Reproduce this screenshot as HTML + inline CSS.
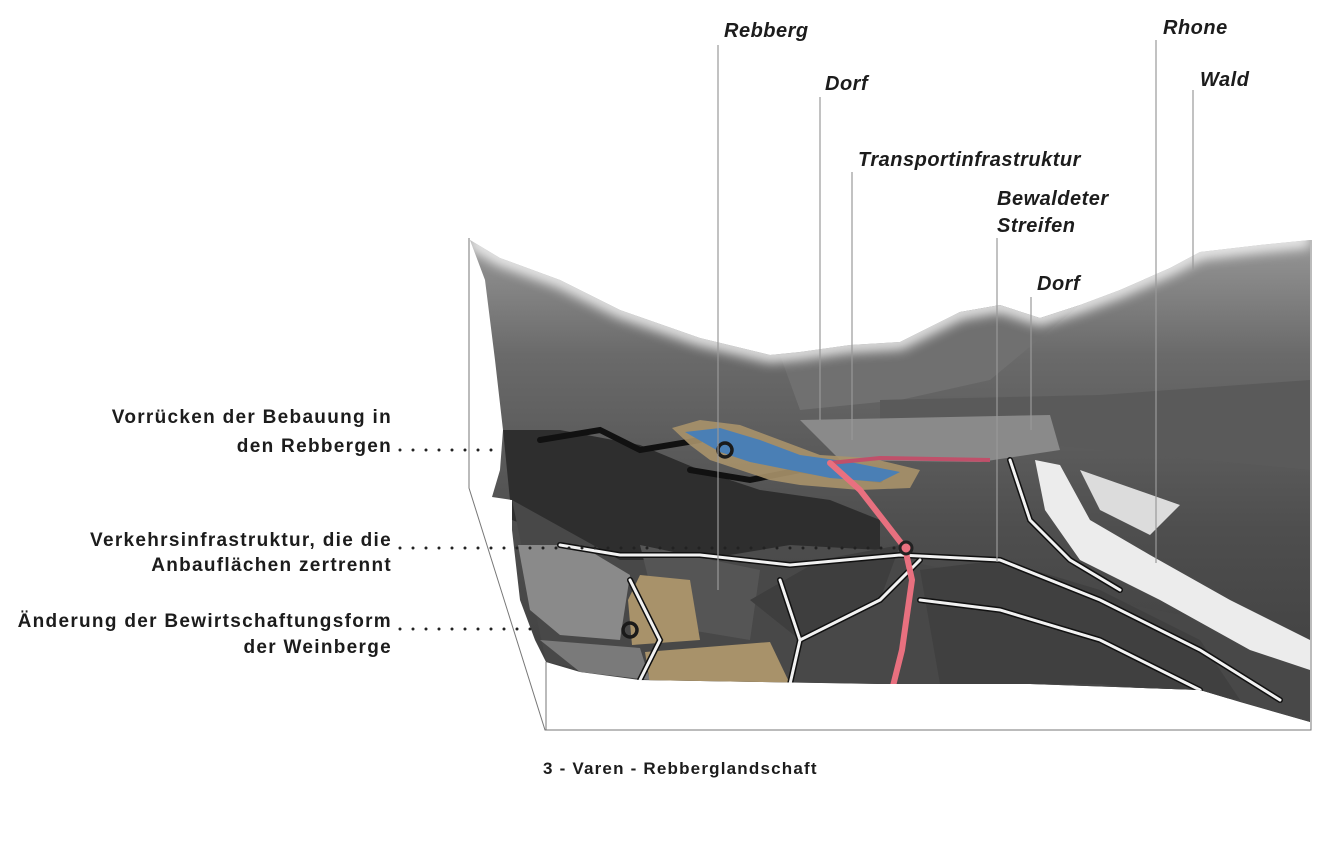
<!DOCTYPE html>
<html><head><meta charset="utf-8"><style>
html,body{margin:0;padding:0;background:#fff;width:1322px;height:861px;overflow:hidden}
svg{display:block}
.l{font-family:"Liberation Sans",sans-serif;font-weight:bold;font-size:19px;fill:#1c1c1c;letter-spacing:1.3px}
.t{font-family:"Liberation Sans",sans-serif;font-weight:bold;font-style:italic;font-size:20px;fill:#1c1c1c;letter-spacing:0.5px}
</style></head><body>
<svg width="1322" height="861" viewBox="0 0 1322 861" xmlns="http://www.w3.org/2000/svg">
<defs>
<linearGradient id="sky" x1="0" y1="0" x2="0" y2="1">
<stop offset="0" stop-color="#9a9a9a"/><stop offset="0.25" stop-color="#6a6a6a"/><stop offset="0.6" stop-color="#4e4e4e"/><stop offset="1" stop-color="#3c3c3c"/></linearGradient>
<filter id="bl" x="-10%" y="-50%" width="120%" height="200%"><feGaussianBlur stdDeviation="6"/></filter>
<clipPath id="land"><path d="M470,240 L500,258 L560,280 L620,310 L700,338 L770,355 L800,352 L850,345 L900,342 L960,312 L1000,305 L1040,318 L1080,305 L1120,290 L1170,268 L1200,252 L1260,245 L1310,240 L1310,722 L1240,702 L1200,690 L1030,684 L880,684 L760,682 L640,680 L580,672 L546,662 L535,640 L520,600 L512,530 L512,500 L492,497 L500,470 L503,430 L495,360 L485,280 Z"/></clipPath>
</defs>
<g clip-path="url(#land)">
<rect x="460" y="230" width="860" height="500" fill="url(#sky)"/>
<path d="M780,355 L900,345 L960,312 L1000,305 L1040,318 L1080,305 L1050,330 L990,380 L900,400 L800,410 Z" fill="#707070"/>
<path d="M880,400 L1100,395 L1310,380 L1310,470 L1000,440 L880,440 Z" fill="#5a5a5a"/>
<path d="M800,420 L1050,415 L1060,450 L980,462 L840,460 Z" fill="#8a8a8a"/>
<path d="M503,430 L560,430 L640,445 L700,470 L760,490 L830,500 L880,520 L880,550 L790,545 L700,560 L620,560 L512,520 Z" fill="#2e2e2e"/>
<path d="M512,500 L620,560 L900,560 L1310,640 L1310,722 L1200,690 L880,684 L640,680 L546,662 Z" fill="#484848"/>
<path d="M640,545 L760,570 L750,640 L660,625 Z" fill="#555"/>
<path d="M750,600 L820,560 L900,545 L880,600 L800,640 Z" fill="#3e3e3e"/>
<path d="M920,570 L1000,560 L1100,590 L1200,640 L1240,700 L1100,684 L940,684 Z" fill="#404040"/>
<path d="M518,545 L580,545 L630,575 L620,640 L560,635 L530,610 Z" fill="#8a8a8a"/>
<path d="M540,640 L640,648 L650,680 L580,672 Z" fill="#7a7a7a"/>
<path d="M640,575 L690,580 L700,640 L632,645 L628,600 Z" fill="#a8926a"/>
<path d="M645,652 L770,642 L790,684 L650,684 Z" fill="#a8926a"/>
<path d="M1035,460 L1060,465 L1090,520 L1150,555 L1230,600 L1310,640 L1310,670 L1250,650 L1160,600 L1080,560 L1045,510 Z" fill="#ececec"/>
<path d="M1080,470 L1180,505 L1150,535 L1100,510 Z" fill="#dcdcdc"/>
<g fill="none" stroke="#111" stroke-width="6" stroke-linecap="round">
<path d="M560,545 L620,555 L700,555 L790,565 L900,555 L1000,560 L1100,600 L1200,650 L1280,700"/>
<path d="M630,580 L660,640 L640,680"/>
<path d="M780,580 L800,640 L790,684"/>
<path d="M800,640 L880,600 L920,560"/>
<path d="M920,600 L1000,610 L1100,640 L1200,690"/>
<path d="M1010,460 L1030,520 L1070,560 L1120,590"/>
<path d="M540,440 L600,430 L640,450 L700,440"/>
<path d="M690,470 L750,480 L800,470 L880,480"/>
</g>
<g fill="none" stroke="#f2f2f2" stroke-width="3" stroke-linecap="round">
<path d="M560,545 L620,555 L700,555 L790,565 L900,555 L1000,560 L1100,600 L1200,650 L1280,700"/>
<path d="M630,580 L660,640 L640,680"/>
<path d="M780,580 L800,640 L790,684"/>
<path d="M800,640 L880,600 L920,560"/>
<path d="M920,600 L1000,610 L1100,640 L1200,690"/>
<path d="M1010,460 L1030,520 L1070,560 L1120,590"/>
</g>
<path d="M672,428 L700,420 L740,425 L780,440 L820,455 L870,458 L920,470 L910,488 L860,490 L800,485 L770,480 L740,470 L710,460 L690,445 Z" fill="#a8926a" opacity="0.9"/>
<path d="M685,432 L720,428 L760,440 L800,455 L850,462 L900,472 L880,482 L830,478 L790,470 L750,462 L720,452 Z" fill="#4a7fb5"/>
<circle cx="725" cy="450" r="7" fill="none" stroke="#1a1a1a" stroke-width="3.5"/>
<path d="M830,463 L880,458 L990,460" fill="none" stroke="#c0506a" stroke-width="4"/>
<path d="M830,463 L860,490 L905,548 L912,580 L902,650 L892,690" fill="none" stroke="#e8707f" stroke-width="6" stroke-linecap="round"/>
<circle cx="906" cy="548" r="6" fill="#e8707f" stroke="#222" stroke-width="3"/>
<circle cx="630" cy="630" r="7" fill="none" stroke="#1a1a1a" stroke-width="3.5"/>
<!-- soft skyline fade -->
<path d="M470,240 L500,258 L560,280 L620,310 L700,338 L770,355 L800,352 L850,345 L900,342 L960,312 L1000,305 L1040,318 L1080,305 L1120,290 L1170,268 L1200,252 L1260,245 L1310,240" fill="none" stroke="#fff" stroke-width="14" filter="url(#bl)" opacity="0.9"/>
</g>
<g fill="none" stroke="#777" stroke-width="1">
<path d="M469,238 L469,488 L545,730 L1311,730 L1311,240"/>
<path d="M546,662 L546,730"/>
</g>
<g stroke="#999" stroke-width="1.2">
<line x1="718" y1="45" x2="718" y2="590"/>
<line x1="820" y1="97" x2="820" y2="420"/>
<line x1="852" y1="172" x2="852" y2="440"/>
<line x1="997" y1="238" x2="997" y2="562"/>
<line x1="1031" y1="297" x2="1031" y2="430"/>
<line x1="1156" y1="40" x2="1156" y2="563"/>
<line x1="1193" y1="90" x2="1193" y2="270"/>
</g>
<g stroke="#222" stroke-width="3" stroke-linecap="round" stroke-dasharray="0 13">
<line x1="400" y1="450" x2="500" y2="450"/>
<line x1="400" y1="548" x2="900" y2="548"/>
<line x1="400" y1="629" x2="535" y2="629"/>
</g>
<text class="t" x="724" y="37">Rebberg</text>
<text class="t" x="825" y="90">Dorf</text>
<text class="t" x="858" y="166">Transportinfrastruktur</text>
<text class="t" x="997" y="205">Bewaldeter</text>
<text class="t" x="997" y="232">Streifen</text>
<text class="t" x="1037" y="290">Dorf</text>
<text class="t" x="1163" y="34">Rhone</text>
<text class="t" x="1200" y="86">Wald</text>
<g class="l" text-anchor="end">
<text x="392" y="423">Vorrücken der Bebauung in</text>
<text x="392" y="452">den Rebbergen</text>
<text x="392" y="546">Verkehrsinfrastruktur, die die</text>
<text x="392" y="571">Anbauflächen zertrennt</text>
<text x="392" y="627">Änderung der Bewirtschaftungsform</text>
<text x="392" y="653">der Weinberge</text>
</g>
<text x="543" y="774" style="font-family:'Liberation Sans',sans-serif;font-weight:bold;font-size:17px;fill:#1c1c1c;letter-spacing:1.2px">3 - Varen - Rebberglandschaft</text>
</svg>
</body></html>
